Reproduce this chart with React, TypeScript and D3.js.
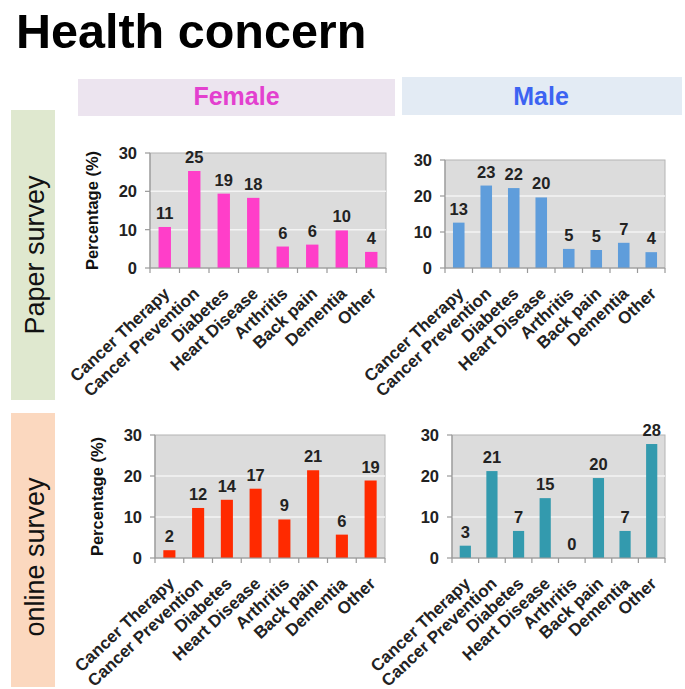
import React from 'react';
import * as d3 from 'd3';

const categories = ['Cancer Therapy', 'Cancer Prevention', 'Diabetes', 'Heart Disease', 'Arthritis', 'Back pain', 'Dementia', 'Other'];
const paperFemale = [10.7, 25.3, 19.4, 18.3, 5.6, 6.1, 9.8, 4.2];
const paperMale = [12.6, 22.9, 22.2, 19.6, 5.3, 5.0, 7.0, 4.4];
const onlineFemale = [1.9, 12.2, 14.2, 16.9, 9.4, 21.4, 5.7, 18.9];
const onlineMale = [3.0, 21.2, 6.6, 14.6, 0, 19.5, 6.6, 27.8];
const yTicks = [0, 10, 20, 30];
const title = 'Health concern';
const columnHeaders = ['Female', 'Male'];
const rowHeaders = ['Paper survey', 'online survey'];
const yAxisTitle = 'Percentage (%)';

const FONT = '"Liberation Sans", Arial, sans-serif';

const panels = [
  { values: paperFemale, color: '#ff3ec9', x0: 150, x1: 386, y0: 153, y1: 268, showTitle: true },
  { values: paperMale, color: '#5f9ddb', x0: 445, x1: 665, y0: 160, y1: 268, showTitle: false },
  { values: onlineFemale, color: '#ff2a00', x0: 155, x1: 385, y0: 435, y1: 558, showTitle: true },
  { values: onlineMale, color: '#339aae', x0: 452, x1: 665, y0: 435, y1: 558, showTitle: false },
];

function Panel({ p }: { p: any }) {
  const x = d3.scaleBand<string>().domain(categories).range([p.x0, p.x1]);
  const y = d3.scaleLinear().domain([0, 30]).range([p.y1, p.y0]);
  const step = x.step();
  const bw = step * 0.42;
  const mid = (p.y0 + p.y1) / 2;
  return (
    <g>
      <rect x={p.x0} y={p.y0} width={p.x1 - p.x0} height={p.y1 - p.y0} fill="#dcdcdc" stroke="#b4b4b4" strokeWidth={1} />
      {yTicks.filter(t => t > 0 && t < 30).map(t => (
        <line key={t} x1={p.x0} x2={p.x1} y1={y(t)} y2={y(t)} stroke="#f4f4f4" strokeWidth={1.5} />
      ))}
      {categories.map((c, i) => (
        <rect key={c} x={(x(c) as number) + (step - bw) / 2} y={y(p.values[i])} width={bw} height={p.y1 - y(p.values[i])} fill={p.color} />
      ))}
      <line x1={p.x0} x2={p.x0} y1={p.y0} y2={p.y1} stroke="#999" strokeWidth={1.2} />
      <line x1={p.x0} x2={p.x1} y1={p.y1} y2={p.y1} stroke="#999" strokeWidth={1.2} />
      {yTicks.map(t => (
        <g key={t}>
          <line x1={p.x0 - 5} x2={p.x0} y1={y(t)} y2={y(t)} stroke="#999" strokeWidth={1.2} />
          <text x={p.x0 - 13} y={y(t)} dy="0.36em" textAnchor="end" fontSize={16.5} fontWeight="bold" fill="#222" fontFamily={FONT}>{t}</text>
        </g>
      ))}
      {d3.range(categories.length + 1).map(i => (
        <line key={i} x1={p.x0 + i * step} x2={p.x0 + i * step} y1={p.y1} y2={p.y1 + 5} stroke="#999" strokeWidth={1.2} />
      ))}
      {categories.map((c, i) => (
        <text key={c} x={(x(c) as number) + step / 2} y={y(p.values[i]) - 8} textAnchor="middle" fontSize={16.5} fontWeight="bold" fill="#222" fontFamily={FONT}>
          {Math.round(p.values[i])}
        </text>
      ))}
      {categories.map(c => {
        const cx = (x(c) as number) + step / 2 + 6;
        const cy = p.y1 + 27;
        return (
          <text key={c} x={cx} y={cy} transform={`rotate(-43 ${cx} ${cy})`} textAnchor="end" fontSize={17} fontWeight="bold" fill="#222" fontFamily={FONT}>
            {c}
          </text>
        );
      })}
      {p.showTitle && (
        <text transform={`translate(${p.x0 - 58},${mid}) rotate(-90)`} dy="0.36em" textAnchor="middle" fontSize={16.5} fontWeight="bold" fill="#111" fontFamily={FONT}>
          {yAxisTitle}
        </text>
      )}
    </g>
  );
}

export default function App() {
  return (
    <svg width={685} height={689} style={{ position: 'absolute', left: 0, top: 0, background: '#fff' }}>
      <text x={16} y={48} fontSize={48.5} fontWeight="bold" fill="#000" fontFamily={FONT}>{title}</text>
      <rect x={78} y={79} width={317} height={37} fill="#ece4ef" />
      <text x={236.5} y={105} textAnchor="middle" fontSize={25} fontWeight="bold" fill="#e340cf" fontFamily={FONT}>{columnHeaders[0]}</text>
      <rect x={402} y={77} width={280} height={38} fill="#e3ebf4" />
      <text x={541} y={105} textAnchor="middle" fontSize={25} fontWeight="bold" fill="#3c63f2" fontFamily={FONT}>{columnHeaders[1]}</text>
      <rect x={11} y={110} width={44} height={290} fill="#dfe8cf" />
      <text transform="translate(34,255) rotate(-90)" dy="0.36em" textAnchor="middle" fontSize={27} fill="#111" fontFamily={FONT}>{rowHeaders[0]}</text>
      <rect x={11} y={413} width={44} height={274} fill="#fbd8bf" />
      <text transform="translate(34,557) rotate(-90)" dy="0.36em" textAnchor="middle" fontSize={27} fill="#111" fontFamily={FONT}>{rowHeaders[1]}</text>
      {panels.map((p, i) => <Panel key={i} p={p} />)}
    </svg>
  );
}
